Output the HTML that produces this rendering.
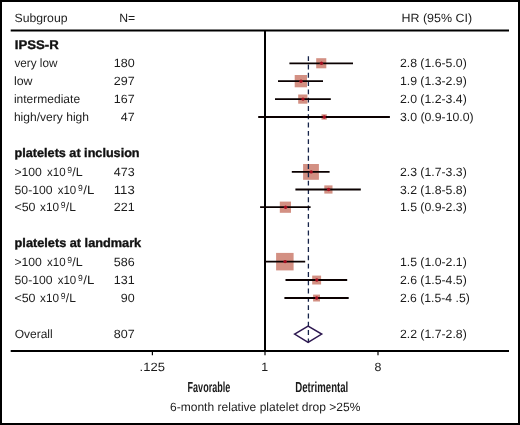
<!DOCTYPE html>
<html><head><meta charset="utf-8"><title>Forest plot</title>
<style>
html,body{margin:0;padding:0;background:#fff;}
svg{display:block;}
text{font-family:"Liberation Sans",sans-serif;font-size:12px;fill:#1c1c1c;text-rendering:geometricPrecision;}
.b{font-weight:bold;font-size:12.4px;fill:#111;stroke:#111;stroke-width:.35px;}
.s{font-size:8.8px;}
.c{font-weight:bold;font-size:14.4px;fill:#1a1a1a;}
.ci{stroke:#0a0000;stroke-width:1.8;}
.sq{fill:#d39083;}
.dot{fill:#a50e20;}
</style></head><body>
<svg width="520" height="425" viewBox="0 0 520 425">
<rect x="0" y="0" width="520" height="425" fill="#fff"/>
<rect x="1" y="1" width="518" height="423" fill="none" stroke="#000" stroke-width="2"/>
<line x1="10.7" y1="30.5" x2="509" y2="30.5" stroke="#000" stroke-width="2.2"/>
<line x1="265" y1="30" x2="265" y2="352" stroke="#000" stroke-width="2"/>
<line x1="10.7" y1="351" x2="509" y2="351" stroke="#000" stroke-width="1.9"/>
<line x1="152.4" y1="352" x2="152.4" y2="355.2" stroke="#000" stroke-width="1.2"/>
<line x1="265" y1="352" x2="265" y2="355.2" stroke="#000" stroke-width="1.2"/>
<line x1="378" y1="352" x2="378" y2="355.2" stroke="#000" stroke-width="1.2"/>
<g class="sq">
<rect x="316.2" y="58.2" width="10.1" height="10.1"/>
<rect x="294.7" y="75.0" width="12.3" height="12.3"/>
<rect x="298.2" y="94.5" width="9.2" height="9.2"/>
<rect x="321.5" y="114.3" width="5.3" height="5.3"/>
<rect x="303.1" y="164.0" width="15.8" height="15.8"/>
<rect x="324.3" y="185.4" width="8.2" height="8.2"/>
<rect x="279.8" y="201.6" width="11.2" height="11.2"/>
<rect x="276.1" y="252.9" width="17.5" height="17.5"/>
<rect x="312.2" y="275.6" width="8.9" height="8.9"/>
<rect x="313.1" y="294.6" width="6.9" height="6.9"/>
</g>
<line x1="308.4" y1="56.2" x2="308.4" y2="342.5" stroke="#17244a" stroke-width="1.3" stroke-dasharray="4.9 3.4"/>
<g class="ci">
<line x1="289.4" y1="63.3" x2="353" y2="63.3"/>
<line x1="278" y1="81.2" x2="323" y2="81.2"/>
<line x1="275" y1="99.1" x2="330.8" y2="99.1"/>
<line x1="258.2" y1="117.0" x2="389.9" y2="117.0"/>
<line x1="291.8" y1="171.9" x2="329.6" y2="171.9"/>
<line x1="295.4" y1="189.5" x2="360.8" y2="189.5"/>
<line x1="260.1" y1="207.2" x2="310.6" y2="207.2"/>
<line x1="265" y1="261.6" x2="305.2" y2="261.6"/>
<line x1="285.5" y1="280.0" x2="347.2" y2="280.0"/>
<line x1="284.4" y1="298.0" x2="348.7" y2="298.0"/>
</g>
<g class="dot">
<circle cx="321.5" cy="63.3" r="1.7"/>
<circle cx="301.0" cy="81.2" r="1.7"/>
<circle cx="303.0" cy="99.1" r="1.7"/>
<circle cx="324.3" cy="117.0" r="1.7"/>
<circle cx="311.2" cy="171.9" r="1.7"/>
<circle cx="328.6" cy="189.5" r="1.7"/>
<circle cx="285.6" cy="207.2" r="1.7"/>
<circle cx="285.1" cy="261.6" r="1.7"/>
<circle cx="316.8" cy="280.0" r="1.7"/>
<circle cx="316.7" cy="298.0" r="1.7"/>
</g>
<polygon points="294.6,334.1 308.1,326 321.7,334.1 308.1,342.3" fill="none" stroke="#2d1850" stroke-width="1.5"/>
<text x="14.5" y="22" textLength="53.0" lengthAdjust="spacingAndGlyphs">Subgroup</text>
<text x="119.2" y="22" textLength="16.0" lengthAdjust="spacingAndGlyphs">N=</text>
<text x="401.5" y="22" textLength="70.6" lengthAdjust="spacingAndGlyphs">HR (95% CI)</text>
<text class="b" x="14.8" y="49" textLength="44.0" lengthAdjust="spacingAndGlyphs">IPSS-R</text>
<text x="14.4" y="67" textLength="43.0" lengthAdjust="spacingAndGlyphs">very low</text>
<text x="113.8" y="67" textLength="20.9" lengthAdjust="spacingAndGlyphs">180</text>
<text x="399.9" y="67" textLength="66.9" lengthAdjust="spacingAndGlyphs">2.8 (1.6-5.0)</text>
<text x="13.9" y="85" textLength="18.6" lengthAdjust="spacingAndGlyphs">low</text>
<text x="113.8" y="85" textLength="20.9" lengthAdjust="spacingAndGlyphs">297</text>
<text x="399.9" y="85" textLength="66.9" lengthAdjust="spacingAndGlyphs">1.9 (1.3-2.9)</text>
<text x="13.9" y="103" textLength="66.2" lengthAdjust="spacingAndGlyphs">intermediate</text>
<text x="113.8" y="103" textLength="20.9" lengthAdjust="spacingAndGlyphs">167</text>
<text x="399.9" y="103" textLength="66.9" lengthAdjust="spacingAndGlyphs">2.0 (1.2-3.4)</text>
<text x="13.9" y="121" textLength="75.1" lengthAdjust="spacingAndGlyphs">high/very high</text>
<text x="120.7" y="121" textLength="13.9" lengthAdjust="spacingAndGlyphs">47</text>
<text x="399.9" y="121" textLength="73.8" lengthAdjust="spacingAndGlyphs">3.0 (0.9-10.0)</text>
<text class="b" x="14.6" y="157" textLength="125.0" lengthAdjust="spacingAndGlyphs">platelets at inclusion</text>
<text class="b" x="14.6" y="247" textLength="126.6" lengthAdjust="spacingAndGlyphs">platelets at landmark</text>
<text y="176"><tspan x="14.4" textLength="30.9" lengthAdjust="spacingAndGlyphs">&gt;100 </tspan><tspan x="47.0" textLength="18.6" lengthAdjust="spacingAndGlyphs">x10</tspan><tspan class="s" x="67.3" dy="-3.4" textLength="4.8" lengthAdjust="spacingAndGlyphs">9</tspan><tspan x="72.2" dy="3.4" textLength="10.4" lengthAdjust="spacingAndGlyphs">/L</tspan></text>
<text x="113.8" y="176" textLength="20.9" lengthAdjust="spacingAndGlyphs">473</text>
<text x="399.9" y="176" textLength="66.9" lengthAdjust="spacingAndGlyphs">2.3 (1.7-3.3)</text>
<text y="194"><tspan x="14.6" textLength="41.3" lengthAdjust="spacingAndGlyphs">50-100 </tspan><tspan x="57.7" textLength="18.6" lengthAdjust="spacingAndGlyphs">x10</tspan><tspan class="s" x="77.9" dy="-3.4" textLength="4.8" lengthAdjust="spacingAndGlyphs">9</tspan><tspan x="83.3" dy="3.4" textLength="11.0" lengthAdjust="spacingAndGlyphs">/L</tspan></text>
<text x="113.8" y="194" textLength="20.9" lengthAdjust="spacingAndGlyphs">113</text>
<text x="399.9" y="194" textLength="66.9" lengthAdjust="spacingAndGlyphs">3.2 (1.8-5.8)</text>
<text y="211"><tspan x="14.4" textLength="24.6" lengthAdjust="spacingAndGlyphs">&lt;50 </tspan><tspan x="40.1" textLength="19.0" lengthAdjust="spacingAndGlyphs">x10</tspan><tspan class="s" x="60.8" dy="-3.4" textLength="4.8" lengthAdjust="spacingAndGlyphs">9</tspan><tspan x="65.8" dy="3.4" textLength="10.0" lengthAdjust="spacingAndGlyphs">/L</tspan></text>
<text x="113.8" y="211" textLength="20.9" lengthAdjust="spacingAndGlyphs">221</text>
<text x="399.9" y="211" textLength="66.9" lengthAdjust="spacingAndGlyphs">1.5 (0.9-2.3)</text>
<text y="266"><tspan x="14.4" textLength="30.9" lengthAdjust="spacingAndGlyphs">&gt;100 </tspan><tspan x="47.0" textLength="18.6" lengthAdjust="spacingAndGlyphs">x10</tspan><tspan class="s" x="67.3" dy="-3.4" textLength="4.8" lengthAdjust="spacingAndGlyphs">9</tspan><tspan x="72.2" dy="3.4" textLength="10.4" lengthAdjust="spacingAndGlyphs">/L</tspan></text>
<text x="113.8" y="266" textLength="20.9" lengthAdjust="spacingAndGlyphs">586</text>
<text x="399.9" y="266" textLength="66.9" lengthAdjust="spacingAndGlyphs">1.5 (1.0-2.1)</text>
<text y="284"><tspan x="14.6" textLength="41.3" lengthAdjust="spacingAndGlyphs">50-100 </tspan><tspan x="57.7" textLength="18.6" lengthAdjust="spacingAndGlyphs">x10</tspan><tspan class="s" x="77.9" dy="-3.4" textLength="4.8" lengthAdjust="spacingAndGlyphs">9</tspan><tspan x="83.3" dy="3.4" textLength="11.0" lengthAdjust="spacingAndGlyphs">/L</tspan></text>
<text x="113.8" y="284" textLength="20.9" lengthAdjust="spacingAndGlyphs">131</text>
<text x="399.9" y="284" textLength="66.9" lengthAdjust="spacingAndGlyphs">2.6 (1.5-4.5)</text>
<text y="302"><tspan x="14.4" textLength="24.6" lengthAdjust="spacingAndGlyphs">&lt;50 </tspan><tspan x="40.1" textLength="19.0" lengthAdjust="spacingAndGlyphs">x10</tspan><tspan class="s" x="60.8" dy="-3.4" textLength="4.8" lengthAdjust="spacingAndGlyphs">9</tspan><tspan x="65.8" dy="3.4" textLength="10.0" lengthAdjust="spacingAndGlyphs">/L</tspan></text>
<text x="120.7" y="302" textLength="13.9" lengthAdjust="spacingAndGlyphs">90</text>
<text x="399.9" y="302" textLength="69.9" lengthAdjust="spacingAndGlyphs">2.6 (1.5-4 .5)</text>
<text x="14.7" y="338" textLength="38.0" lengthAdjust="spacingAndGlyphs">Overall</text>
<text x="113.8" y="338" textLength="20.9" lengthAdjust="spacingAndGlyphs">807</text>
<text x="399.9" y="338" textLength="66.9" lengthAdjust="spacingAndGlyphs">2.2 (1.7-2.8)</text>
<text x="139.6" y="370.5" textLength="25.3" lengthAdjust="spacingAndGlyphs">.125</text>
<text x="261.2" y="370.5" textLength="6.9" lengthAdjust="spacingAndGlyphs">1</text>
<text x="374.6" y="370.5" textLength="6.9" lengthAdjust="spacingAndGlyphs">8</text>
<text class="c" x="187.6" y="391.5" textLength="42.6" lengthAdjust="spacingAndGlyphs">Favorable</text>
<text class="c" x="295.3" y="391.5" textLength="53.0" lengthAdjust="spacingAndGlyphs">Detrimental</text>
<text x="170.0" y="411" textLength="190.4" lengthAdjust="spacingAndGlyphs">6-month relative platelet drop &gt;25%</text>
</svg>
</body></html>
